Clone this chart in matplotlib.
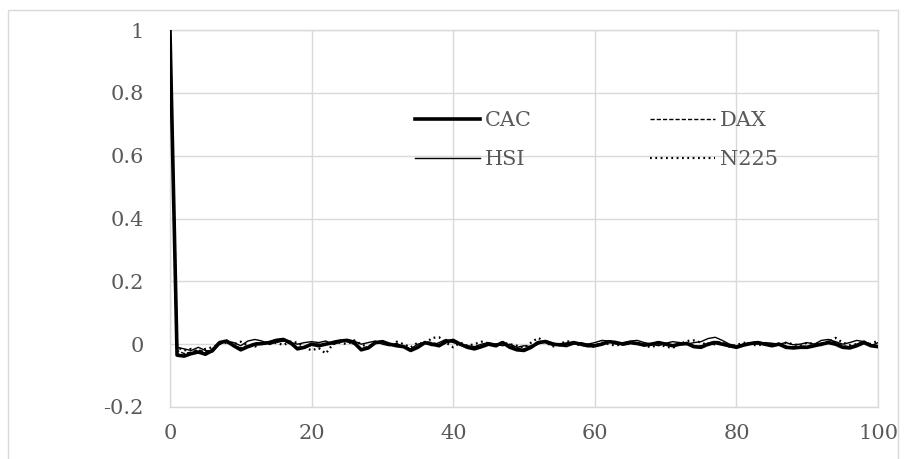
import numpy as np
import matplotlib.pyplot as plt
from matplotlib.patches import Rectangle

# Autocorrelation by lag (lag 0 .. 100)
lags = list(range(0, 101))

cac = [1.0,
       -0.035, -0.038, -0.030, -0.025, -0.032, -0.020, 0.005, 0.010, -0.005, -0.018,
       -0.008, 0.000, 0.002, 0.005, 0.012, 0.015, 0.005, -0.015, -0.010, 0.000,
       -0.005, 0.000, 0.005, 0.010, 0.012, 0.005, -0.018, -0.012, 0.005, 0.008,
       0.000, -0.005, -0.008, -0.020, -0.010, 0.005, 0.000, -0.005, 0.008, 0.012,
       0.000, -0.010, -0.015, -0.008, 0.000, -0.005, 0.005, -0.010, -0.018, -0.020,
       -0.010, 0.005, 0.008, 0.000, -0.002, 0.000, 0.005, 0.000, -0.005, -0.005,
       0.000, 0.008, 0.005, 0.000, 0.005, 0.002, -0.003, 0.000, 0.005, 0.000,
       -0.005, 0.000, 0.002, -0.008, -0.010, 0.000, 0.005, 0.000, -0.005, -0.010,
       -0.003, 0.002, 0.005, 0.000, -0.005, 0.000, -0.010, -0.012, -0.010, -0.010,
       -0.005, 0.000, 0.005, 0.000, -0.010, -0.012, -0.005, 0.005, -0.005, -0.008]

dax = [1.0,
       -0.020, -0.030, -0.025, -0.018, -0.025, -0.015, 0.008, 0.005, -0.005, -0.012,
       -0.005, 0.003, 0.005, 0.008, 0.010, 0.012, 0.000, -0.010, -0.008, 0.002,
       0.000, -0.003, 0.008, 0.012, 0.008, 0.000, -0.012, -0.008, 0.008, 0.005,
       -0.002, -0.004, -0.005, -0.015, -0.008, 0.008, 0.005, 0.000, 0.010, 0.008,
       -0.003, -0.008, -0.010, -0.005, 0.002, 0.000, 0.008, -0.005, -0.012, -0.015,
       -0.005, 0.008, 0.010, 0.002, 0.000, 0.003, 0.005, -0.002, -0.003, -0.002,
       0.003, 0.010, 0.008, 0.002, 0.008, 0.004, 0.000, 0.002, 0.008, 0.002,
       -0.003, 0.002, 0.005, -0.005, -0.006, 0.003, 0.010, 0.005, -0.002, -0.008,
       0.000, 0.005, 0.008, 0.002, -0.002, 0.003, -0.006, -0.010, -0.008, -0.006,
       0.000, 0.003, 0.010, 0.005, -0.005, -0.008, 0.000, 0.010, 0.000, -0.005]

hsi = [1.0,
       -0.010, -0.015, -0.020, -0.010, -0.020, -0.025, 0.000, 0.010, 0.005, -0.005,
       0.010, 0.015, 0.010, 0.000, 0.005, 0.010, 0.005, 0.000, 0.005, 0.008,
       0.005, 0.010, 0.000, 0.005, 0.015, 0.010, 0.000, 0.005, 0.010, 0.000,
       -0.005, 0.003, -0.010, -0.015, 0.000, 0.005, -0.005, 0.005, 0.015, 0.005,
       0.000, -0.005, -0.008, 0.000, 0.005, 0.000, -0.005, 0.000, -0.010, -0.005,
       -0.008, 0.000, 0.012, 0.005, -0.005, -0.008, 0.000, 0.005, 0.000, 0.005,
       0.012, 0.010, 0.000, 0.005, 0.010, 0.012, 0.005, 0.000, -0.005, 0.003,
       0.008, 0.005, 0.000, 0.005, 0.008, 0.018, 0.022, 0.012, 0.000, -0.005,
       0.000, 0.005, 0.000, 0.005, 0.003, 0.000, 0.005, -0.002, 0.000, 0.005,
       0.000, 0.012, 0.015, 0.008, 0.000, 0.005, 0.012, 0.008, -0.005, 0.005]

n225 = [1.0,
        -0.010, -0.020, -0.015, -0.025, -0.015, -0.010, 0.000, 0.005, 0.000, 0.008,
        -0.005, -0.008, 0.005, 0.000, 0.005, -0.003, 0.008, 0.005, -0.010, -0.020,
        -0.012, -0.030, 0.000, 0.005, 0.000, 0.012, 0.000, -0.010, 0.003, 0.010,
        -0.005, 0.008, 0.000, -0.010, 0.005, 0.000, 0.020, 0.022, 0.005, -0.010,
        0.005, -0.005, 0.000, 0.008, 0.003, -0.008, 0.005, 0.000, -0.005, -0.012,
        0.005, 0.020, 0.008, -0.008, 0.000, 0.010, 0.005, -0.005, 0.000, -0.010,
        0.005, 0.000, -0.005, 0.003, 0.000, 0.005, -0.005, -0.010, 0.000, -0.008,
        -0.012, 0.000, 0.010, 0.012, 0.005, -0.003, 0.000, 0.005, -0.008, -0.003,
        0.005, 0.000, -0.005, 0.003, 0.000, -0.005, 0.005, 0.000, -0.005, 0.005,
        0.000, -0.003, 0.008, 0.020, 0.005, -0.003, 0.000, 0.008, 0.000, 0.012]

y_ticks = [-0.2, 0, 0.2, 0.4, 0.6, 0.8, 1]
y_labels = ['-0.2', '0', '0.2', '0.4', '0.6', '0.8', '1']
x_ticks = [0, 20, 40, 60, 80, 100]

plt.rcParams['font.family'] = ['DejaVu Serif']
grid_col = '#d9d9d9'
text_col = '#595959'

fig = plt.figure(figsize=(9.07, 4.59), dpi=100)
ax = fig.add_axes([0.1874, 0.1133, 0.7807, 0.8213])

l_cac, = ax.plot(lags, cac, color='black', linewidth=2.6, label='CAC', zorder=5)
l_dax, = ax.plot(lags, dax, color='black', linewidth=1.0, linestyle=(0, (3, 1.5)), label='DAX', zorder=4)
l_hsi, = ax.plot(lags, hsi, color='black', linewidth=1.0, label='HSI', zorder=4)
l_n225, = ax.plot(lags, n225, color='black', linewidth=1.6, linestyle=(0, (0.8, 1.6)), label='N225', zorder=4)

ax.set_xlim(0, 100)
ax.set_ylim(-0.2, 1)
ax.set_xticks(x_ticks)
ax.set_yticks(y_ticks)
ax.set_yticklabels(y_labels)
ax.grid(True, color=grid_col, linewidth=1.0)
ax.set_axisbelow(True)
for s in ax.spines.values():
    s.set_color(grid_col)
    s.set_linewidth(1.0)
ax.tick_params(length=0, labelsize=15, colors=text_col)
ax.tick_params(axis='y', pad=19)
ax.tick_params(axis='x', pad=12)

# legend filled row by row: CAC, DAX / HSI, N225
ax.legend([l_cac, l_hsi, l_dax, l_n225], ['CAC', 'HSI', 'DAX', 'N225'],
          ncol=2, loc='upper left', bbox_to_anchor=(0.346, 0.785),
          borderaxespad=0, borderpad=0, frameon=False,
          handlelength=3.1, columnspacing=5.7, labelspacing=0.96,
          handletextpad=0.25, fontsize=15, labelcolor=text_col)

# light chart-area border
fig.patches.append(Rectangle((8 / 907, -0.05), 890 / 907, 1.05 - 10 / 459,
                             transform=fig.transFigure, fill=False,
                             edgecolor=grid_col, linewidth=1.0))

fig.savefig('out.png', dpi=100)
